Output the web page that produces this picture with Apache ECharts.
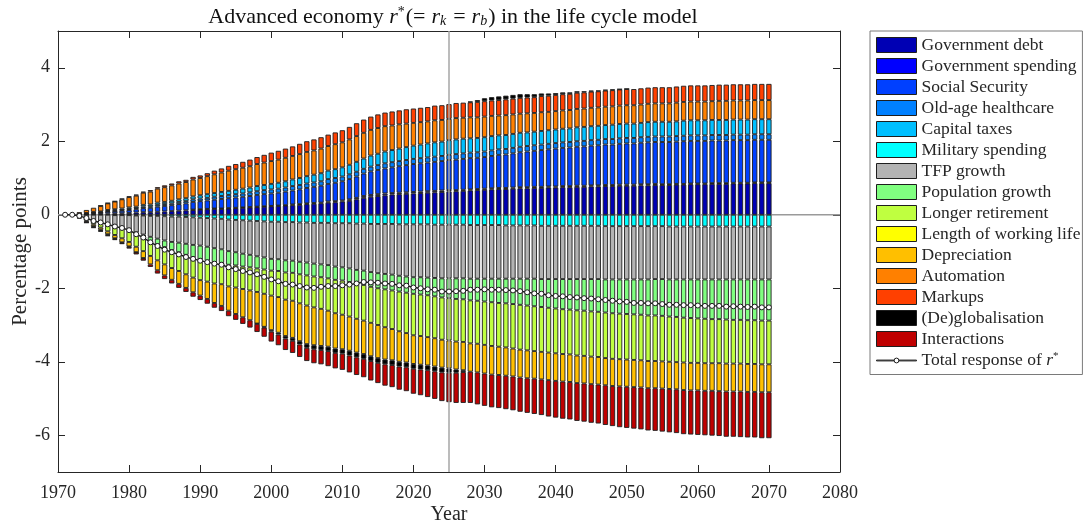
<!DOCTYPE html>
<html>
<head>
<meta charset="utf-8">
<script src="https://cdn.jsdelivr.net/npm/echarts@6/dist/echarts.min.js"></script>
<style>
  html, body { margin: 0; padding: 0; background: #ffffff; }
  #chart { width: 1086px; height: 524px; }
</style>
</head>
<body>
<div id="chart"></div>
<script>
// Decomposition of the change in r* (percentage points), one value per year 1971-2070.
const firstYear = 1971;
const lastYear = 2070;
const axisStart = 1970;
const axisEnd = 2080;
const yTicks = [-6, -4, -2, 0, 2, 4];

const govDebt = [
  0, 0, 0.01, 0.01, 0.02, 0.02, 0.03, 0.04, 0.04, 0.05,
  0.06, 0.07, 0.07, 0.08, 0.09, 0.10, 0.11, 0.12, 0.13, 0.14,
  0.15, 0.16, 0.16, 0.17, 0.18, 0.19, 0.20, 0.21, 0.22, 0.23,
  0.24, 0.25, 0.26, 0.27, 0.29, 0.30, 0.31, 0.33, 0.34, 0.36,
  0.38, 0.42, 0.46, 0.49, 0.51, 0.53, 0.55, 0.56, 0.57, 0.58,
  0.59, 0.60, 0.61, 0.62, 0.63, 0.64, 0.65, 0.66, 0.67, 0.68,
  0.69, 0.70, 0.70, 0.71, 0.72, 0.72, 0.73, 0.73, 0.74, 0.74,
  0.75, 0.75, 0.76, 0.76, 0.77, 0.77, 0.78, 0.78, 0.79, 0.79,
  0.79, 0.80, 0.80, 0.81, 0.81, 0.81, 0.82, 0.82, 0.83, 0.83,
  0.83, 0.84, 0.84, 0.84, 0.85, 0.85, 0.85, 0.86, 0.86, 0.86
];
const govSpending = [
  0, 0, 0, 0, 0, 0, 0, 0, 0, 0,
  0, 0, 0, 0, 0, 0, 0, 0, 0.01, 0.01,
  0.01, 0.01, 0.01, 0.01, 0.01, 0.01, 0.01, 0.01, 0.01, 0.01,
  0.01, 0.01, 0.02, 0.02, 0.02, 0.02, 0.02, 0.03, 0.03, 0.03,
  0.04, 0.04, 0.05, 0.05, 0.05, 0.05, 0.04, 0.04, 0.04, 0.04,
  0.04, 0.04, 0.04, 0.04, 0.04, 0.03, 0.03, 0.03, 0.03, 0.03,
  0.03, 0.03, 0.03, 0.03, 0.03, 0.03, 0.03, 0.03, 0.03, 0.03,
  0.03, 0.03, 0.03, 0.03, 0.03, 0.03, 0.03, 0.03, 0.03, 0.03,
  0.03, 0.03, 0.03, 0.03, 0.02, 0.02, 0.02, 0.02, 0.02, 0.02,
  0.02, 0.02, 0.02, 0.02, 0.02, 0.02, 0.02, 0.02, 0.02, 0.02
];
const socialSecurity = [
  0, 0, 0.01, 0.02, 0.03, 0.04, 0.05, 0.06, 0.07, 0.08,
  0.09, 0.11, 0.12, 0.14, 0.15, 0.16, 0.18, 0.19, 0.21, 0.22,
  0.23, 0.24, 0.26, 0.27, 0.28, 0.29, 0.30, 0.32, 0.33, 0.34,
  0.35, 0.37, 0.38, 0.40, 0.42, 0.44, 0.46, 0.48, 0.50, 0.52,
  0.55, 0.58, 0.61, 0.64, 0.66, 0.68, 0.70, 0.72, 0.74, 0.76,
  0.77, 0.78, 0.79, 0.80, 0.82, 0.83, 0.84, 0.85, 0.85, 0.86,
  0.88, 0.90, 0.91, 0.93, 0.95, 0.97, 0.98, 1.00, 1.01, 1.03,
  1.04, 1.05, 1.06, 1.07, 1.08, 1.09, 1.10, 1.10, 1.11, 1.12,
  1.12, 1.13, 1.14, 1.14, 1.15, 1.15, 1.15, 1.16, 1.16, 1.16,
  1.16, 1.16, 1.16, 1.16, 1.16, 1.16, 1.16, 1.16, 1.16, 1.16
];
const oldAgeHealthcare = [
  0, 0, 0, 0.01, 0.01, 0.01, 0.02, 0.02, 0.02, 0.03,
  0.03, 0.04, 0.04, 0.05, 0.05, 0.05, 0.06, 0.06, 0.07, 0.07,
  0.07, 0.08, 0.08, 0.09, 0.09, 0.09, 0.10, 0.10, 0.11, 0.11,
  0.11, 0.11, 0.12, 0.12, 0.12, 0.12, 0.12, 0.13, 0.13, 0.13,
  0.13, 0.13, 0.13, 0.13, 0.13, 0.14, 0.14, 0.14, 0.14, 0.14,
  0.14, 0.14, 0.14, 0.14, 0.14, 0.15, 0.15, 0.15, 0.15, 0.15,
  0.15, 0.15, 0.15, 0.15, 0.15, 0.15, 0.15, 0.15, 0.15, 0.15,
  0.15, 0.15, 0.15, 0.15, 0.15, 0.15, 0.15, 0.15, 0.15, 0.15,
  0.15, 0.15, 0.15, 0.15, 0.15, 0.15, 0.15, 0.15, 0.15, 0.15,
  0.15, 0.15, 0.15, 0.15, 0.15, 0.15, 0.15, 0.15, 0.15, 0.15
];
const capitalTaxes = [
  0, 0, 0.01, 0.01, 0.02, 0.02, 0.03, 0.03, 0.04, 0.04,
  0.04, 0.05, 0.05, 0.06, 0.06, 0.07, 0.07, 0.08, 0.08, 0.09,
  0.10, 0.10, 0.11, 0.11, 0.12, 0.13, 0.13, 0.14, 0.14, 0.15,
  0.16, 0.17, 0.18, 0.19, 0.20, 0.21, 0.22, 0.23, 0.24, 0.25,
  0.26, 0.27, 0.28, 0.30, 0.31, 0.32, 0.33, 0.34, 0.35, 0.36,
  0.37, 0.38, 0.39, 0.39, 0.40, 0.40, 0.40, 0.39, 0.39, 0.39,
  0.39, 0.38, 0.38, 0.38, 0.38, 0.37, 0.37, 0.37, 0.37, 0.37,
  0.37, 0.37, 0.38, 0.38, 0.38, 0.38, 0.38, 0.39, 0.39, 0.39,
  0.39, 0.39, 0.40, 0.40, 0.40, 0.40, 0.40, 0.41, 0.41, 0.41,
  0.41, 0.41, 0.41, 0.41, 0.41, 0.41, 0.41, 0.41, 0.41, 0.41
];
const militarySpending = [
  0, 0, 0, 0, 0, 0, 0, -0.01, -0.01, -0.01,
  -0.02, -0.02, -0.03, -0.03, -0.04, -0.05, -0.05, -0.06, -0.07, -0.08,
  -0.09, -0.10, -0.11, -0.13, -0.14, -0.15, -0.16, -0.17, -0.18, -0.19,
  -0.19, -0.20, -0.20, -0.21, -0.21, -0.22, -0.22, -0.22, -0.23, -0.23,
  -0.23, -0.24, -0.24, -0.25, -0.25, -0.25, -0.25, -0.26, -0.26, -0.26,
  -0.26, -0.26, -0.27, -0.27, -0.27, -0.27, -0.27, -0.28, -0.28, -0.28,
  -0.28, -0.28, -0.29, -0.29, -0.29, -0.29, -0.29, -0.30, -0.30, -0.30,
  -0.30, -0.30, -0.30, -0.30, -0.30, -0.30, -0.31, -0.31, -0.31, -0.31,
  -0.31, -0.31, -0.31, -0.31, -0.31, -0.32, -0.32, -0.32, -0.32, -0.32,
  -0.32, -0.32, -0.32, -0.32, -0.32, -0.32, -0.32, -0.32, -0.32, -0.32
];
const tfpGrowth = [
  0, 0, -0.03, -0.09, -0.15, -0.20, -0.26, -0.31, -0.36, -0.41,
  -0.46, -0.52, -0.57, -0.62, -0.66, -0.69, -0.71, -0.73, -0.75, -0.76,
  -0.78, -0.81, -0.83, -0.86, -0.88, -0.91, -0.93, -0.96, -0.98, -1.01,
  -1.02, -1.04, -1.05, -1.07, -1.09, -1.11, -1.13, -1.15, -1.18, -1.20,
  -1.23, -1.26, -1.28, -1.31, -1.34, -1.36, -1.38, -1.40, -1.42, -1.44,
  -1.44, -1.45, -1.45, -1.46, -1.46, -1.46, -1.46, -1.46, -1.46, -1.46,
  -1.46, -1.46, -1.45, -1.45, -1.45, -1.45, -1.45, -1.45, -1.45, -1.45,
  -1.45, -1.45, -1.45, -1.45, -1.45, -1.45, -1.45, -1.45, -1.45, -1.45,
  -1.45, -1.45, -1.45, -1.44, -1.44, -1.44, -1.44, -1.44, -1.44, -1.44,
  -1.44, -1.44, -1.44, -1.44, -1.44, -1.44, -1.44, -1.44, -1.44, -1.44
];
const populationGrowth = [
  0, 0, 0, 0, 0, 0, 0, 0, 0, -0.02,
  -0.05, -0.08, -0.11, -0.15, -0.18, -0.22, -0.26, -0.30, -0.34, -0.38,
  -0.38, -0.38, -0.37, -0.37, -0.36, -0.35, -0.34, -0.33, -0.33, -0.32,
  -0.32, -0.33, -0.33, -0.34, -0.35, -0.35, -0.35, -0.36, -0.36, -0.36,
  -0.37, -0.38, -0.39, -0.40, -0.41, -0.42, -0.43, -0.43, -0.44, -0.45,
  -0.47, -0.48, -0.50, -0.52, -0.54, -0.56, -0.57, -0.59, -0.60, -0.62,
  -0.64, -0.66, -0.67, -0.69, -0.71, -0.73, -0.75, -0.76, -0.78, -0.80,
  -0.82, -0.83, -0.85, -0.86, -0.88, -0.89, -0.90, -0.92, -0.93, -0.94,
  -0.95, -0.96, -0.98, -0.99, -1.00, -1.01, -1.02, -1.04, -1.05, -1.06,
  -1.07, -1.08, -1.08, -1.09, -1.10, -1.10, -1.11, -1.11, -1.12, -1.12
];
const longerRetirement = [
  0, 0, -0.03, -0.07, -0.11, -0.15, -0.19, -0.23, -0.27, -0.30,
  -0.34, -0.37, -0.41, -0.44, -0.47, -0.49, -0.51, -0.53, -0.55, -0.56,
  -0.57, -0.58, -0.58, -0.59, -0.60, -0.61, -0.63, -0.64, -0.66, -0.68,
  -0.71, -0.74, -0.76, -0.79, -0.82, -0.84, -0.86, -0.88, -0.91, -0.93,
  -0.94, -0.95, -0.97, -0.98, -1.00, -1.03, -1.05, -1.08, -1.10, -1.13,
  -1.13, -1.14, -1.14, -1.15, -1.15, -1.16, -1.16, -1.17, -1.17, -1.18,
  -1.19, -1.19, -1.20, -1.21, -1.22, -1.22, -1.22, -1.22, -1.22, -1.22,
  -1.22, -1.22, -1.23, -1.23, -1.23, -1.23, -1.24, -1.24, -1.24, -1.24,
  -1.24, -1.24, -1.24, -1.24, -1.24, -1.23, -1.23, -1.22, -1.22, -1.21,
  -1.21, -1.20, -1.20, -1.20, -1.19, -1.19, -1.19, -1.19, -1.19, -1.19
];
const workingLife = [
  0, 0, 0, 0, 0, 0, 0, 0, 0, 0,
  0, 0, 0, 0, 0, 0, 0, 0, 0, 0,
  0, 0, 0, 0, 0, 0, 0, 0, 0, 0,
  0, 0, 0, 0, 0, 0, 0, 0, 0, 0,
  0, 0, 0, 0, 0, 0, 0, 0, 0, 0,
  0, 0, 0, 0, 0, 0, 0, 0, 0, 0,
  0, 0, 0, 0, 0, 0, 0, 0, 0, 0,
  0, 0, 0, 0, 0, 0, 0, 0, 0, 0,
  0, 0, 0, 0, 0, 0, 0, 0, 0, 0,
  0, 0, 0, 0, 0, 0, 0, 0, 0, 0
];
const depreciation = [
  0, 0, -0.02, -0.03, -0.05, -0.06, -0.08, -0.09, -0.11, -0.12,
  -0.15, -0.19, -0.23, -0.27, -0.30, -0.32, -0.35, -0.37, -0.40, -0.42,
  -0.47, -0.53, -0.59, -0.66, -0.72, -0.77, -0.81, -0.86, -0.90, -0.94,
  -0.97, -0.99, -1.01, -1.03, -1.05, -1.03, -1.01, -0.98, -0.96, -0.94,
  -0.93, -0.92, -0.91, -0.91, -0.90, -0.88, -0.85, -0.83, -0.80, -0.78,
  -0.78, -0.77, -0.77, -0.76, -0.76, -0.76, -0.77, -0.77, -0.78, -0.78,
  -0.78, -0.77, -0.77, -0.76, -0.76, -0.76, -0.75, -0.75, -0.75, -0.75,
  -0.75, -0.75, -0.75, -0.75, -0.75, -0.75, -0.74, -0.74, -0.74, -0.74,
  -0.74, -0.74, -0.74, -0.74, -0.74, -0.74, -0.74, -0.75, -0.75, -0.75,
  -0.75, -0.75, -0.76, -0.76, -0.76, -0.76, -0.76, -0.76, -0.76, -0.76
];
const automation = [
  0, 0, 0.04, 0.08, 0.11, 0.15, 0.18, 0.21, 0.25, 0.28,
  0.30, 0.33, 0.35, 0.38, 0.40, 0.42, 0.43, 0.44, 0.46, 0.47,
  0.49, 0.51, 0.53, 0.55, 0.56, 0.57, 0.58, 0.60, 0.61, 0.62,
  0.63, 0.64, 0.64, 0.65, 0.66, 0.66, 0.67, 0.67, 0.68, 0.68,
  0.69, 0.70, 0.70, 0.70, 0.70, 0.69, 0.67, 0.66, 0.64, 0.62,
  0.61, 0.60, 0.60, 0.59, 0.58, 0.58, 0.57, 0.57, 0.56, 0.56,
  0.55, 0.54, 0.54, 0.53, 0.52, 0.52, 0.51, 0.51, 0.50, 0.50,
  0.50, 0.50, 0.50, 0.50, 0.50, 0.50, 0.50, 0.50, 0.50, 0.50,
  0.50, 0.50, 0.50, 0.50, 0.50, 0.50, 0.51, 0.51, 0.51, 0.51,
  0.51, 0.51, 0.52, 0.52, 0.52, 0.52, 0.52, 0.52, 0.52, 0.52
];
const markups = [
  0, 0, 0, 0, 0, 0.01, 0.01, 0.01, 0.02, 0.02,
  0.03, 0.03, 0.04, 0.04, 0.05, 0.05, 0.06, 0.06, 0.07, 0.07,
  0.08, 0.10, 0.11, 0.13, 0.14, 0.16, 0.18, 0.19, 0.21, 0.23,
  0.24, 0.25, 0.26, 0.28, 0.29, 0.30, 0.31, 0.31, 0.32, 0.33,
  0.34, 0.35, 0.36, 0.36, 0.37, 0.37, 0.38, 0.38, 0.39, 0.39,
  0.39, 0.39, 0.40, 0.40, 0.40, 0.41, 0.41, 0.41, 0.42, 0.42,
  0.42, 0.42, 0.43, 0.43, 0.43, 0.43, 0.43, 0.44, 0.44, 0.44,
  0.44, 0.44, 0.44, 0.44, 0.44, 0.44, 0.44, 0.44, 0.44, 0.44,
  0.44, 0.44, 0.44, 0.44, 0.44, 0.44, 0.44, 0.44, 0.44, 0.44,
  0.44, 0.44, 0.44, 0.44, 0.44, 0.44, 0.44, 0.44, 0.44, 0.44
];
const deglobalisation = [
  0, 0, -0.02, -0.02, -0.03, -0.03, -0.03, -0.02, -0.02, -0.02,
  -0.01, -0.01, 0, 0, 0, 0, 0, 0, 0, 0,
  0, 0, 0, 0, 0, 0, 0, -0.01, -0.02, -0.04,
  -0.05, -0.07, -0.08, -0.09, -0.10, -0.11, -0.11, -0.12, -0.12, -0.12,
  -0.13, -0.13, -0.13, -0.13, -0.13, -0.13, -0.13, -0.13, -0.13, -0.13,
  -0.13, -0.13, -0.13, -0.13, -0.12, -0.09, -0.05, 0.02, 0.05, 0.08,
  0.09, 0.10, 0.10, 0.10, 0.10, 0.09, 0.08, 0.07, 0.06, 0.05,
  0.05, 0.04, 0.04, 0.03, 0.03, 0.02, 0.02, 0.02, 0.01, 0.01,
  0, 0, 0, 0, 0, 0, 0, 0, 0, 0,
  0, 0, 0, 0, 0, 0, 0, 0, 0, 0
];
const interactions = [
  0, 0, 0, -0.01, -0.02, -0.02, -0.02, -0.03, -0.03, -0.04,
  -0.05, -0.06, -0.07, -0.09, -0.10, -0.10, -0.11, -0.11, -0.12, -0.12,
  -0.13, -0.13, -0.14, -0.15, -0.16, -0.18, -0.20, -0.22, -0.25, -0.27,
  -0.29, -0.31, -0.33, -0.34, -0.36, -0.38, -0.39, -0.41, -0.42, -0.44,
  -0.46, -0.48, -0.50, -0.53, -0.55, -0.58, -0.60, -0.63, -0.65, -0.68,
  -0.70, -0.73, -0.75, -0.78, -0.80, -0.82, -0.84, -0.85, -0.87, -0.88,
  -0.89, -0.90, -0.91, -0.92, -0.93, -0.94, -0.96, -0.97, -0.99, -1.00,
  -1.01, -1.02, -1.03, -1.04, -1.05, -1.06, -1.08, -1.09, -1.11, -1.12,
  -1.13, -1.14, -1.15, -1.16, -1.17, -1.18, -1.19, -1.20, -1.20, -1.21,
  -1.21, -1.22, -1.22, -1.23, -1.23, -1.24, -1.24, -1.24, -1.25, -1.25
];
const totalResponse = [
  0, 0, -0.03, -0.09, -0.17, -0.21, -0.26, -0.32, -0.36, -0.42,
  -0.53, -0.62, -0.75, -0.85, -0.95, -1.02, -1.08, -1.15, -1.20, -1.25,
  -1.29, -1.33, -1.36, -1.43, -1.48, -1.53, -1.57, -1.62, -1.69, -1.76,
  -1.81, -1.88, -1.90, -1.94, -1.98, -1.99, -1.96, -1.94, -1.94, -1.92,
  -1.90, -1.87, -1.83, -1.84, -1.85, -1.87, -1.88, -1.92, -1.93, -1.98,
  -2.00, -2.03, -2.04, -2.09, -2.09, -2.08, -2.07, -2.04, -2.04, -2.03,
  -2.04, -2.04, -2.05, -2.06, -2.08, -2.11, -2.14, -2.15, -2.19, -2.21,
  -2.22, -2.24, -2.25, -2.27, -2.28, -2.30, -2.32, -2.34, -2.36, -2.37,
  -2.40, -2.40, -2.41, -2.41, -2.43, -2.45, -2.45, -2.46, -2.46, -2.47,
  -2.48, -2.48, -2.48, -2.50, -2.49, -2.50, -2.51, -2.50, -2.52, -2.52
];

const componentNames = [
  'Government debt', 'Government spending', 'Social Security', 'Old-age healthcare',
  'Capital taxes', 'Military spending', 'TFP growth', 'Population growth',
  'Longer retirement', 'Length of working life', 'Depreciation', 'Automation',
  'Markups', '(De)globalisation', 'Interactions'
];
const componentValues = [
  govDebt, govSpending, socialSecurity, oldAgeHealthcare, capitalTaxes,
  militarySpending, tfpGrowth, populationGrowth, longerRetirement, workingLife,
  depreciation, automation, markups, deglobalisation, interactions
];
const totalName = 'Total response of r*';
const policyYear = '2025';

// ---- styling ----
const FONT = '"Liberation Serif", "Times New Roman", serif';
const INK = '#262626';
const componentColors = [
  '#0000b4', '#0000ff', '#0040ff', '#0080ff', '#00bfff', '#00ffff', '#b3b3b3',
  '#80ff80', '#bfff40', '#ffff00', '#ffbf00', '#ff8000', '#ff4000', '#000000', '#bf0000'
];

// Category positions for every year on the axis; bars only where data exist.
const axisYears = [];
for (let y = axisStart; y <= axisEnd; y++) axisYears.push(String(y));
const valueAt = (arr, yearStr) => {
  const i = Number(yearStr) - firstYear;
  if (i < 0 || i > lastYear - firstYear) return null;
  return arr[i] === 0 ? null : arr[i];
};
const decadeOnly = (idx, val) => Number(val) % 10 === 0;

const barSeries = componentNames.map((name, k) => ({
  name: name,
  type: 'bar',
  stack: 'decomposition',
  barWidth: 5.3,
  silent: true,
  itemStyle: { color: componentColors[k], borderColor: '#1e1e1e', borderWidth: 0.9 },
  data: axisYears.map(yr => valueAt(componentValues[k], yr))
}));

const totalData = axisYears.map(yr => {
  const i = Number(yr) - firstYear;
  return (i < 0 || i > lastYear - firstYear) ? null : totalResponse[i];
});

const TS = 22;
const titleRich = {
  n: { fontFamily: FONT, fontSize: TS, fontWeight: 'normal', color: '#111' },
  e1: { fontFamily: FONT, fontSize: TS, fontWeight: 'normal', color: '#111', padding: [0, 6, 0, 0] },
  e2: { fontFamily: FONT, fontSize: TS, fontWeight: 'normal', color: '#111', padding: [0, 6, 0, 6] },
  i: { fontFamily: FONT, fontSize: TS, fontWeight: 'normal', fontStyle: 'italic', color: '#111' },
  sup: { fontFamily: FONT, fontSize: 14, fontWeight: 'normal', color: '#111', padding: [0, 1, 10, 0] },
  sub: { fontFamily: FONT, fontSize: 14, fontWeight: 'normal', fontStyle: 'italic', color: '#111', padding: [8, 1, 0, 0] }
};

// legend glyph for the total: thin line with a small open circle
const lineMarkerIcon = 'path://M0,7.1 L17.4,7.1 L17.4,7.9 L0,7.9 Z M22.6,7.1 L40,7.1 L40,7.9 L22.6,7.9 Z ' +
  'M17.6,7.5 A2.4,2.4 0 1,1 22.4,7.5 A2.4,2.4 0 1,1 17.6,7.5 Z';

const categoryAxis = (position, showLabels) => ({
  type: 'category',
  data: axisYears,
  boundaryGap: false,
  position: position,
  axisLine: { show: true, onZero: false, lineStyle: { color: INK, width: 1 } },
  axisTick: { show: true, inside: true, length: 7, interval: decadeOnly, lineStyle: { color: INK } },
  axisLabel: showLabels
    ? { show: true, interval: decadeOnly, color: INK, fontFamily: FONT, fontSize: 18, margin: 12 }
    : { show: false },
  splitLine: { show: false }
});

const valueAxis = (position, showLabels) => ({
  type: 'value', min: -7, max: 5, position: position,
  axisLine: { show: true, onZero: false, lineStyle: { color: INK, width: 1 } },
  axisTick: { show: true, inside: true, length: 7, customValues: yTicks, lineStyle: { color: INK } },
  axisLabel: showLabels
    ? { show: true, color: INK, fontFamily: FONT, fontSize: 18, margin: 8, customValues: yTicks }
    : { show: false },
  splitLine: { show: false }
});

const xBottom = categoryAxis('bottom', true);
xBottom.name = 'Year';
xBottom.nameLocation = 'middle';
xBottom.nameGap = 33;
xBottom.nameMoveOverlap = false;
xBottom.nameTextStyle = { fontFamily: FONT, fontSize: 20, color: INK };

const yLeft = valueAxis('left', true);
yLeft.name = 'Percentage points';
yLeft.nameLocation = 'middle';
yLeft.nameGap = 27;
yLeft.nameMoveOverlap = false;
yLeft.nameTextStyle = { fontFamily: FONT, fontSize: 21, color: INK };

const chart = echarts.init(document.getElementById('chart'), null, { renderer: 'canvas' });
chart.setOption({
  animation: false,
  backgroundColor: '#ffffff',
  title: {
    text: '{n|Advanced economy }{i|r}{sup|*}{n|(}{e1|=}{i|r}{sub|k}{e2|=}{i|r}{sub|b}{n|) in the life cycle model}',
    left: 448,
    top: 0,
    textAlign: 'center',
    textStyle: { fontWeight: 'normal', rich: titleRich }
  },
  legend: {
    orient: 'vertical',
    left: 870,
    top: 31,
    padding: [5, 2, 5, 6],
    itemWidth: 40,
    itemHeight: 15,
    itemGap: 3,
    borderColor: '#7a7a7a',
    borderWidth: 1,
    backgroundColor: '#ffffff',
    selectedMode: false,
    textStyle: {
      fontFamily: FONT, fontSize: 17.5, color: INK,
      rich: {
        n: { fontFamily: FONT, fontSize: 17.5, color: INK },
        i: { fontFamily: FONT, fontSize: 17.5, fontStyle: 'italic', color: INK },
        sup: { fontFamily: FONT, fontSize: 11, color: INK, padding: [0, 0, 8, 0] }
      }
    },
    formatter: name => name === totalName ? '{n|Total response of }{i|r}{sup|*}' : name,
    data: componentNames.map(name => ({
      name: name, icon: 'rect',
      itemStyle: { borderColor: '#1e1e1e', borderWidth: 1 }
    })).concat([{
      name: totalName, icon: lineMarkerIcon,
      itemStyle: { color: '#ffffff', borderColor: '#1a1a1a', borderWidth: 1 }
    }])
  },
  grid: { left: 58, right: 246, top: 31, bottom: 52, containLabel: false, outerBoundsMode: 'none' },
  xAxis: [xBottom, categoryAxis('top', false)],
  yAxis: [yLeft, valueAxis('right', false)],
  series: [
    {
      name: 'zero',
      type: 'line',
      z: 1,
      silent: true,
      symbol: 'none',
      lineStyle: { color: '#9a9a9a', width: 1.5 },
      data: [[String(axisStart), 0], [String(axisEnd), 0]]
    }
  ].concat(barSeries).concat([
    {
      name: totalName,
      type: 'line',
      z: 5,
      silent: true,
      symbol: 'circle',
      symbolSize: 5,
      showAllSymbol: true,
      lineStyle: { color: '#1a1a1a', width: 1.4 },
      itemStyle: { color: '#ffffff', borderColor: '#1a1a1a', borderWidth: 1 },
      data: totalData,
      markLine: {
        silent: true,
        symbol: 'none',
        label: { show: false },
        lineStyle: { color: '#a6a6a6', width: 1.5, type: 'solid' },
        data: [{ xAxis: policyYear }]
      }
    }
  ])
});
</script>
</body>
</html>
